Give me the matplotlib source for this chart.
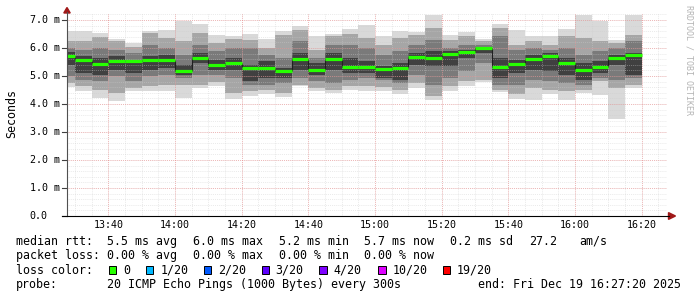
import numpy as np
import matplotlib
matplotlib.use("Agg")
import matplotlib.pyplot as plt
from matplotlib.patches import Rectangle, Polygon
from matplotlib.transforms import blended_transform_factory

# ---------------- data (ms) ----------------
# bar start times in minutes after midnight (5-minute steps, 13:25 .. 16:15)
bar_start = list(range(13 * 60 + 25, 16 * 60 + 20, 5))

rtt_max = [6.62, 6.60, 6.54, 6.32, 6.18, 6.62, 6.65, 6.95, 6.87, 6.48, 6.42, 6.50,
           6.33, 6.60, 6.77, 6.42, 6.50, 6.69, 6.81, 6.42, 6.62, 6.57, 7.19, 6.45,
           6.57, 6.33, 6.86, 6.63, 6.42, 6.42, 6.69, 7.19, 6.95, 6.30, 7.19]
band2_hi = [6.24, 6.26, 6.40, 6.24, 6.02, 6.54, 6.36, 6.24, 6.54, 6.18, 6.33, 6.30,
            6.00, 6.48, 6.65, 5.94, 6.42, 6.50, 6.36, 6.12, 6.36, 6.48, 6.71, 6.30,
            6.42, 6.24, 6.71, 6.12, 6.24, 6.12, 6.42, 6.36, 6.24, 6.18, 6.48]
band3_hi = [6.00, 5.94, 6.00, 5.94, 5.82, 6.12, 6.00, 5.76, 6.12, 5.88, 6.00, 6.00,
            5.76, 5.64, 6.24, 5.64, 6.12, 6.12, 6.00, 5.76, 5.88, 6.12, 6.30, 6.00,
            6.12, 6.12, 6.42, 5.94, 6.00, 5.94, 6.00, 5.76, 5.88, 6.00, 6.24]
core_hi = [5.85, 5.70, 5.64, 5.70, 5.58, 5.70, 5.76, 5.40, 5.82, 5.58, 5.64, 5.40,
           5.52, 5.29, 5.82, 5.46, 5.82, 5.64, 5.52, 5.35, 5.46, 5.82, 5.88, 5.88,
           5.94, 6.02, 5.64, 5.58, 5.76, 5.82, 5.64, 5.46, 5.52, 5.76, 5.82]
median = [5.70, 5.56, 5.42, 5.52, 5.52, 5.56, 5.57, 5.17, 5.65, 5.39, 5.46, 5.30,
          5.29, 5.19, 5.62, 5.20, 5.60, 5.33, 5.32, 5.25, 5.27, 5.67, 5.63, 5.77,
          5.85, 5.99, 5.33, 5.42, 5.60, 5.71, 5.48, 5.21, 5.33, 5.64, 5.76]
core_lo = [5.40, 5.11, 5.05, 5.23, 5.11, 5.23, 5.29, 5.05, 5.46, 5.23, 5.23, 4.81,
           4.93, 4.93, 5.23, 5.05, 5.23, 5.11, 5.11, 4.93, 4.87, 5.40, 5.35, 5.35,
           5.64, 5.82, 4.93, 5.11, 5.23, 5.17, 5.05, 4.87, 5.11, 5.40, 5.05]
band3_lo = [5.00, 4.87, 4.81, 4.99, 4.81, 4.99, 5.05, 4.93, 5.05, 5.05, 4.93, 4.69,
            4.69, 4.75, 4.93, 4.81, 4.75, 4.87, 4.93, 4.87, 4.75, 5.05, 4.69, 4.93,
            5.17, 5.46, 4.69, 4.69, 4.87, 4.81, 4.75, 4.69, 4.93, 4.87, 4.93]
band2_lo = [4.75, 4.63, 4.51, 4.39, 4.57, 4.63, 4.69, 4.69, 4.67, 4.79, 4.39, 4.45,
            4.51, 4.39, 4.69, 4.57, 4.51, 4.63, 4.63, 4.60, 4.51, 4.75, 4.27, 4.63,
            4.81, 4.87, 4.51, 4.36, 4.57, 4.51, 4.45, 4.51, 4.81, 4.57, 4.67]
rtt_min = [4.61, 4.48, 4.21, 4.12, 4.45, 4.48, 4.45, 4.21, 4.57, 4.63, 4.19, 4.27,
           4.36, 4.24, 4.63, 4.48, 4.39, 4.51, 4.48, 4.48, 4.36, 4.57, 4.15, 4.48,
           4.63, 4.79, 4.43, 4.19, 4.15, 4.36, 4.15, 4.39, 4.31, 3.48, 4.57]

y_ticks = [0, 1, 2, 3, 4, 5, 6, 7]
y_labels = ["0.0", "1.0 m", "2.0 m", "3.0 m", "4.0 m", "5.0 m", "6.0 m", "7.0 m"]
x_ticks = [13 * 60 + 40, 14 * 60, 14 * 60 + 20, 14 * 60 + 40, 15 * 60,
           15 * 60 + 20, 15 * 60 + 40, 16 * 60, 16 * 60 + 20]
x_labels = ["13:40", "14:00", "14:20", "14:40", "15:00", "15:20", "15:40", "16:00", "16:20"]

loss_labels = ["0", "1/20", "2/20", "3/20", "4/20", "10/20", "19/20"]
loss_colors = ["#26ff00", "#00b8ff", "#0059ff", "#5e00ff", "#7e00ff", "#dd00ff", "#ff0000"]

# ---------------- figure ----------------
W, H = 697, 297
fig = plt.figure(figsize=(W / 100, H / 100), dpi=100)
fig.patch.set_facecolor("white")
MONO = "DejaVu Sans Mono"


def fx(px):
    return px / W


def fy(py):
    return 1 - py / H


ax = fig.add_axes([fx(67), fy(216), 600 / W, 203 / H])
ax.set_xlim(807.6, 987.6)
ax.set_ylim(0, 7.25)
ax.set_facecolor("white")
for s in ax.spines.values():
    s.set_visible(False)
ax.set_xticks([])
ax.set_yticks([])

# smoke layers
layers = [(rtt_min, rtt_max, "#d9d9d9"),
          (band2_lo, band2_hi, "#a6a6a6"),
          (band3_lo, band3_hi, "#7a7a7a"),
          (core_lo, core_hi, "#404040")]
for lo, hi, col in layers:
    lo = np.array(lo)
    hi = np.array(hi)
    ax.bar(bar_start, hi - lo, bottom=lo, width=5, align="edge", color=col,
           linewidth=0, antialiased=False, zorder=1)

# grid (drawn over the smoke, as rrdtool does)
dot = (0, (1, 1.3))
minor_y = np.arange(0, 7.25, 0.2)
for yv in minor_y:
    ax.axhline(yv, color="#cccccc", lw=0.6, ls=dot, alpha=0.55, zorder=2)
for xv in range(13 * 60 + 30, 16 * 60 + 30, 5):
    ax.axvline(xv, color="#cccccc", lw=0.6, ls=dot, alpha=0.55, zorder=2)
for yv in y_ticks[1:]:
    ax.axhline(yv, color="#f07878", lw=0.6, ls=dot, alpha=0.6, zorder=2.1)
for xv in x_ticks:
    ax.axvline(xv, color="#f07878", lw=0.6, ls=dot, alpha=0.6, zorder=2.1)

# median line: dark step connectors + green slabs
starts = np.array(bar_start)
med = np.array(median)
ax.vlines(starts[1:], np.minimum(med[:-1], med[1:]), np.maximum(med[:-1], med[1:]),
          color="#202020", lw=0.8, zorder=3)
ax.hlines(med, starts, starts + 5, color=loss_colors[0], lw=2.3, zorder=4,
          capstyle="butt")

# axes lines and arrows
fig.add_artist(plt.Line2D([fx(67), fx(67)], [fy(216), fy(12)], color="#505050", lw=0.8))
fig.add_artist(plt.Line2D([fx(62), fx(669)], [fy(216), fy(216)], color="#000000", lw=0.8))
fig.add_artist(Polygon([(fx(67), fy(7.5)), (fx(63.8), fy(13)), (fx(70.2), fy(13))],
                       closed=True, color="#a01818", transform=fig.transFigure))
fig.add_artist(Polygon([(fx(675.5), fy(216)), (fx(668.5), fy(212.6)), (fx(668.5), fy(219.4))],
                       closed=True, color="#a01818", transform=fig.transFigure))
# small major tick marks
for yv in y_ticks:
    ax.plot([-0.008, 0], [yv, yv], transform=blended_transform_factory(ax.transAxes, ax.transData),
            color="#404040", lw=0.8, clip_on=False, zorder=5)

# tick labels
ty = blended_transform_factory(fig.transFigure, ax.transData)
for yv, lab in zip(y_ticks, y_labels):
    ax.text(fx(29.8), yv, lab, transform=ty, ha="left", va="center",
            family=MONO, fontsize=7.2, color="#000000")
tx = blended_transform_factory(ax.transData, fig.transFigure)
for xv, lab in zip(x_ticks, x_labels):
    ax.text(xv, fy(225.5), lab, transform=tx, ha="center", va="center",
            family=MONO, fontsize=7.2, color="#000000")

fig.text(fx(11.3), fy(114), "Seconds", rotation=90, ha="center", va="center",
         family=MONO, fontsize=8.4, color="#000000")
fig.text(fx(688.5), fy(60), "RRDTOOL / TOBI OETIKER", rotation=270, ha="center",
         va="center", family=MONO, fontsize=6.0, color="#b4b4b4")

# legend text
FS = 8.4
line1 = [("median rtt:", 16.2), ("5.5 ms avg", 106.8), ("6.0 ms max", 192.8),
         ("5.2 ms min", 278.8), ("5.7 ms now", 364.5), ("0.2 ms sd", 450.5),
         ("27.2", 529.5), ("am/s", 578.8)]
line2 = [("packet loss:", 16.2), ("0.00 % avg", 106.8), ("0.00 % max", 192.8),
         ("0.00 % min", 278.8), ("0.00 % now", 364.5)]
line4 = [("probe:", 16.2), ("20 ICMP Echo Pings (1000 Bytes) every 300s", 106.8),
         ("end: Fri Dec 19 16:27:20 2025", 477.8)]
for txt, x in line1:
    fig.text(fx(x), fy(245), txt, ha="left", va="baseline", family=MONO, fontsize=FS)
for txt, x in line2:
    fig.text(fx(x), fy(259.3), txt, ha="left", va="baseline", family=MONO, fontsize=FS)
fig.text(fx(16.2), fy(273.5), "loss color:", ha="left", va="baseline", family=MONO, fontsize=FS)
for txt, x in line4:
    fig.text(fx(x), fy(287.7), txt, ha="left", va="baseline", family=MONO, fontsize=FS)

sq_x = [108.7, 146.0, 204.0, 261.7, 319.3, 378.3, 442.7]
lab_x = [123.5, 160.2, 217.8, 275.5, 333.2, 392.2, 456.2]
for lab, col, sx, lx in zip(loss_labels, loss_colors, sq_x, lab_x):
    fig.add_artist(Rectangle((fx(sx), fy(273.7)), 7.4 / W, 7.4 / H, transform=fig.transFigure,
                             facecolor=col, edgecolor="#000000", lw=0.7))
    fig.text(fx(lx), fy(273.5), lab, ha="left", va="baseline", family=MONO, fontsize=FS)

fig.savefig("out.png", dpi=100, facecolor="white")
